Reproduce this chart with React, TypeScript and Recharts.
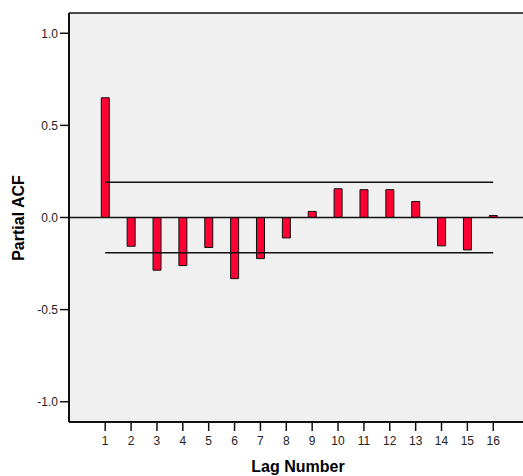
import React from "react";
import { ComposedChart, Bar, XAxis, YAxis, CartesianGrid, ReferenceLine } from "recharts";

const lags = [1, 2, 3, 4, 5, 6, 7, 8, 9, 10, 11, 12, 13, 14, 15, 16];
const pacf = [0.65, -0.156, -0.286, -0.261, -0.163, -0.332, -0.223, -0.111, 0.033, 0.156, 0.151, 0.151, 0.087, -0.154, -0.176, 0.011];
const confidenceBound = 0.192;
const yTicks = [-1, -0.5, 0, 0.5, 1];

const data = lags.map((lag, i) => ({ lag, pacf: pacf[i] }));

const FONT = "'Liberation Sans', Arial, sans-serif";

export default function App() {
  return (
    <div style={{ position: "absolute", left: 0, top: 0, width: 523, height: 476, background: "#fff" }}>
      <ComposedChart width={523} height={476} data={data} margin={{ top: 13, right: 0, bottom: 0, left: 0 }}>
        <CartesianGrid fill="#f0f0f0" stroke="none" horizontal={false} vertical={false} />
        <XAxis
          dataKey="lag"
          type="number"
          domain={[-0.4, 17.15]}
          ticks={lags}
          interval={0}
          allowDataOverflow
          height={54}
          axisLine={{ stroke: "#111", strokeWidth: 2 }}
          tickLine={{ stroke: "#111", strokeWidth: 1.5 }}
          tickSize={9}
          tickMargin={5}
          tick={{ fill: "#222", fontSize: 12, fontFamily: FONT }}
          label={{
            content: () => (
              <text x={298} y={472} textAnchor="middle" fontFamily={FONT} fontSize={16} fontWeight="bold" fill="#000">
                Lag Number
              </text>
            ),
          }}
        />
        <YAxis
          type="number"
          domain={[-1.11, 1.11]}
          ticks={yTicks}
          interval={0}
          allowDataOverflow
          width={69}
          axisLine={{ stroke: "#111", strokeWidth: 2 }}
          tickLine={{ stroke: "#111", strokeWidth: 1.5 }}
          tickSize={9}
          tickFormatter={(v: number) => v.toFixed(1)}
          tick={{ fill: "#222", fontSize: 12, fontFamily: FONT }}
          label={{
            content: () => (
              <text
                x={24}
                y={218}
                transform="rotate(-90 24 218)"
                textAnchor="middle"
                fontFamily={FONT}
                fontSize={16}
                fontWeight="bold"
                fill="#000"
              >
                Partial ACF
              </text>
            ),
          }}
        />
        <Bar dataKey="pacf" barSize={8} fill="#ff0033" stroke="#111" strokeWidth={1} isAnimationActive={false} />
        <ReferenceLine y={1.11} stroke="#111" strokeWidth={1.5} />
        <ReferenceLine y={0} stroke="#111" strokeWidth={1.5} />
        <ReferenceLine
          segment={[{ x: lags[0], y: confidenceBound }, { x: lags[lags.length - 1], y: confidenceBound }]}
          stroke="#111"
          strokeWidth={1.5}
        />
        <ReferenceLine
          segment={[{ x: lags[0], y: -confidenceBound }, { x: lags[lags.length - 1], y: -confidenceBound }]}
          stroke="#111"
          strokeWidth={1.5}
        />
      </ComposedChart>
    </div>
  );
}
